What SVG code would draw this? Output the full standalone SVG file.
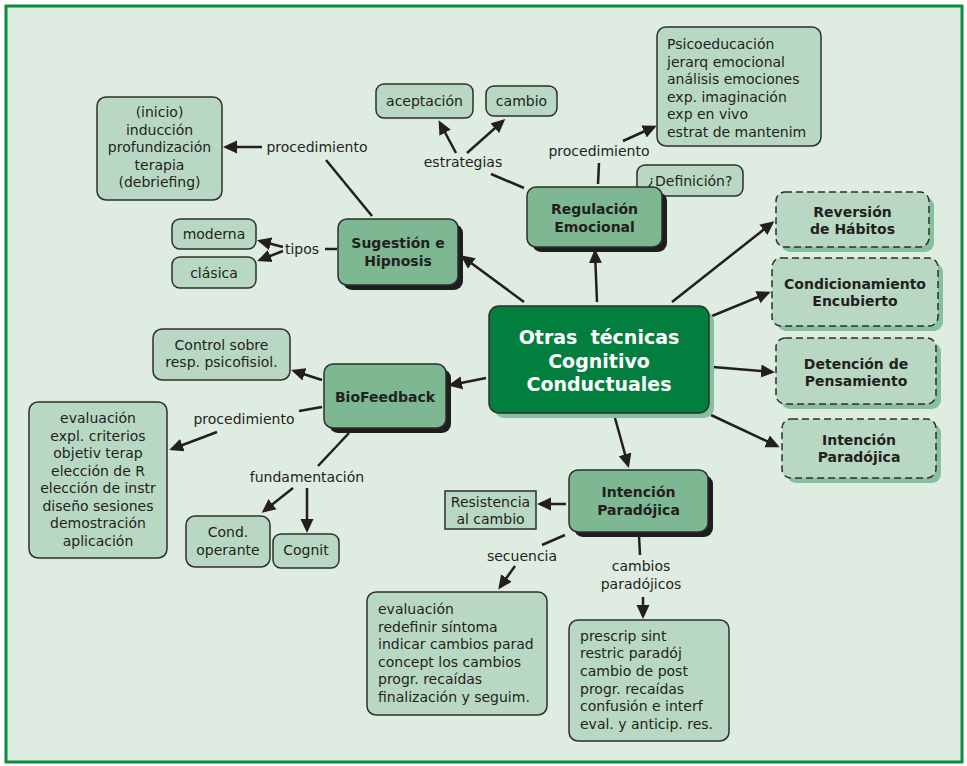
<svg xmlns="http://www.w3.org/2000/svg" width="967" height="766" viewBox="0 0 967 766">
<style>
text{font-family:"DejaVu Sans","Verdana",sans-serif;fill:#231F20}
.t{font-size:14px}
.tc{font-size:14px;text-anchor:middle}
.b{font-size:14px;font-weight:bold;text-anchor:middle}
.big{font-size:19px;font-weight:bold;text-anchor:middle;fill:#FFFFFF;white-space:pre}
.light{fill:#B9D8C4;stroke:#2E2E2E;stroke-width:1.5}
.mid{fill:#7DB893;stroke:#2E2E2E;stroke-width:1.5}
.dash{fill:#B9D8C4;stroke:#2E2E2E;stroke-width:1.5;stroke-dasharray:7 4}
.shd{fill:#1E1E1E}
.shl{fill:#86C09C}
.c line{stroke:#231F20;stroke-width:2.5}
.c line.a{marker-end:url(#ah)}
</style>
<defs>
<marker id="ah" markerUnits="userSpaceOnUse" markerWidth="14" markerHeight="14" viewBox="0 0 14 14" refX="11" refY="7" orient="auto">
<path d="M0,0.5 L14,7 L0,13.5 z" fill="#231F20"/>
</marker>
</defs>
<rect x="0" y="0" width="967" height="766" fill="#FFFFFF"/>
<rect x="6" y="6" width="956" height="756" fill="#DFECE2" stroke="#0B8A40" stroke-width="3"/>

<g id="connectors" class="c">
<line x1="372" y1="216" x2="326" y2="160"/>
<line class="a" x1="262" y1="147" x2="226" y2="147"/>
<line x1="337" y1="249" x2="325" y2="249"/>
<line class="a" x1="283" y1="247" x2="260" y2="241"/>
<line class="a" x1="283" y1="251" x2="260" y2="260"/>
<line class="a" x1="524" y1="302" x2="463" y2="257"/>
<line class="a" x1="597" y1="302" x2="595" y2="252"/>
<line x1="524" y1="188" x2="491" y2="174"/>
<line class="a" x1="456" y1="153" x2="440" y2="123"/>
<line class="a" x1="467" y1="153" x2="503" y2="121"/>
<line x1="598" y1="184" x2="599" y2="163"/>
<line class="a" x1="623" y1="141" x2="654" y2="127"/>
<line class="a" x1="486" y1="378" x2="451" y2="385"/>
<line class="a" x1="322" y1="380" x2="294" y2="371"/>
<line x1="322" y1="407" x2="299" y2="411"/>
<line class="a" x1="217" y1="432" x2="172" y2="449"/>
<line x1="349" y1="433" x2="318" y2="466"/>
<line class="a" x1="293" y1="488" x2="264" y2="511"/>
<line class="a" x1="307" y1="488" x2="307" y2="530"/>
<line class="a" x1="615" y1="418" x2="628" y2="465"/>
<line class="a" x1="566" y1="504" x2="540" y2="504"/>
<line x1="565" y1="535" x2="542" y2="545"/>
<line class="a" x1="515" y1="566" x2="500" y2="587"/>
<line x1="639" y1="536" x2="640" y2="555"/>
<line class="a" x1="643" y1="597" x2="643" y2="616"/>
<line class="a" x1="672" y1="302" x2="772" y2="223"/>
<line class="a" x1="712" y1="316" x2="768" y2="293"/>
<line class="a" x1="713" y1="367" x2="772" y2="372"/>
<line class="a" x1="711" y1="415" x2="777" y2="446"/>
</g>

<g id="labels">
<text class="tc" x="317" y="152">procedimiento</text>
<text class="tc" x="302" y="254">tipos</text>
<text class="tc" x="463" y="167">estrategias</text>
<text class="tc" x="599" y="156">procedimiento</text>
<text class="tc" x="244" y="424">procedimiento</text>
<text class="tc" x="307" y="482">fundamentación</text>
<text class="tc" x="522" y="561">secuencia</text>
<text class="tc" x="641" y="571">cambios</text>
<text class="tc" x="641" y="589">paradójicos</text>
</g>

<g id="n-center">
<rect class="shl" x="494" y="311" width="220" height="107" rx="10"/>
<rect x="489" y="306" width="220" height="107" rx="10" fill="#027E3E" stroke="#2E2E2E" stroke-width="1.5"/>
<text class="big" x="599" y="344">Otras  técnicas</text>
<text class="big" x="599" y="368">Cognitivo</text>
<text class="big" x="599" y="391">Conductuales</text>
</g>

<g id="n-sugestion">
<rect class="shd" x="343" y="224" width="120" height="66" rx="9"/>
<rect class="mid" x="338" y="219" width="120" height="66" rx="9"/>
<text class="b" x="398" y="248">Sugestión e</text>
<text class="b" x="398" y="266">Hipnosis</text>
</g>

<g id="n-procsug">
<rect class="light" x="97" y="97" width="125" height="103" rx="9"/>
<text class="tc" x="159.5" y="117">(inicio)</text>
<text class="tc" x="159.5" y="135">inducción</text>
<text class="tc" x="159.5" y="152">profundización</text>
<text class="tc" x="159.5" y="170">terapia</text>
<text class="tc" x="159.5" y="187">(debriefing)</text>
</g>

<g id="n-moderna">
<rect class="light" x="172" y="219" width="84" height="30" rx="8"/>
<text class="tc" x="214" y="239">moderna</text>
</g>
<g id="n-clasica">
<rect class="light" x="172" y="257" width="84" height="31" rx="8"/>
<text class="tc" x="214" y="278">clásica</text>
</g>

<g id="n-aceptacion">
<rect class="light" x="376" y="84" width="97" height="34" rx="8"/>
<text class="tc" x="424.5" y="106">aceptación</text>
</g>
<g id="n-cambio">
<rect class="light" x="486" y="86" width="71" height="30" rx="8"/>
<text class="tc" x="521.5" y="106">cambio</text>
</g>

<g id="n-psico">
<rect class="light" x="657" y="27" width="164" height="119" rx="9"/>
<text class="t" x="667" y="49">Psicoeducación</text>
<text class="t" x="667" y="67">jerarq emocional</text>
<text class="t" x="667" y="84">análisis emociones</text>
<text class="t" x="667" y="102">exp. imaginación</text>
<text class="t" x="667" y="119">exp en vivo</text>
<text class="t" x="667" y="137">estrat de mantenim</text>
</g>

<g id="n-definicion">
<rect class="light" x="637" y="165" width="106" height="31" rx="8"/>
<text class="tc" x="690" y="186">¿Definición?</text>
</g>

<g id="n-regulacion">
<rect class="shd" x="532" y="192" width="135" height="60" rx="9"/>
<rect class="mid" x="527" y="187" width="135" height="60" rx="9"/>
<text class="b" x="594.5" y="214">Regulación</text>
<text class="b" x="594.5" y="232">Emocional</text>
</g>

<g id="n-biofeedback">
<rect class="shd" x="329" y="369" width="122" height="64" rx="9"/>
<rect class="mid" x="324" y="364" width="122" height="64" rx="9"/>
<text class="b" x="385" y="402">BioFeedback</text>
</g>

<g id="n-control">
<rect class="light" x="153" y="329" width="137" height="51" rx="9"/>
<text class="tc" x="221.5" y="350">Control sobre</text>
<text class="tc" x="221.5" y="367">resp. psicofisiol.</text>
</g>

<g id="n-procbio">
<rect class="light" x="29" y="402" width="138" height="156" rx="9"/>
<text class="tc" x="98" y="423">evaluación</text>
<text class="tc" x="98" y="441">expl. criterios</text>
<text class="tc" x="98" y="458">objetiv terap</text>
<text class="tc" x="98" y="476">elección de R</text>
<text class="tc" x="98" y="493">elección de instr</text>
<text class="tc" x="98" y="511">diseño sesiones</text>
<text class="tc" x="98" y="528">demostración</text>
<text class="tc" x="98" y="546">aplicación</text>
</g>

<g id="n-condoperante">
<rect class="light" x="186" y="516" width="84" height="51" rx="9"/>
<text class="tc" x="228" y="537">Cond.</text>
<text class="tc" x="228" y="555">operante</text>
</g>
<g id="n-cognit">
<rect class="light" x="273" y="534" width="66" height="34" rx="8"/>
<text class="tc" x="306" y="555">Cognit</text>
</g>

<g id="n-intencion">
<rect class="shd" x="574" y="475" width="139" height="62" rx="9"/>
<rect class="mid" x="569" y="470" width="139" height="62" rx="9"/>
<text class="b" x="638.5" y="497">Intención</text>
<text class="b" x="638.5" y="515">Paradójica</text>
</g>

<g id="n-resistencia">
<rect class="light" x="445" y="491" width="91" height="38"/>
<text class="tc" x="490.5" y="507">Resistencia</text>
<text class="tc" x="490.5" y="524">al cambio</text>
</g>

<g id="n-secuencia">
<rect class="light" x="367" y="592" width="180" height="123" rx="9"/>
<text class="t" x="378" y="614">evaluación</text>
<text class="t" x="378" y="632">redefinir síntoma</text>
<text class="t" x="378" y="649">indicar cambios parad</text>
<text class="t" x="378" y="667">concept los cambios</text>
<text class="t" x="378" y="684">progr. recaídas</text>
<text class="t" x="378" y="702">finalización y seguim.</text>
</g>

<g id="n-cambiospar">
<rect class="light" x="569" y="620" width="160" height="121" rx="9"/>
<text class="t" x="580" y="641">prescrip sint</text>
<text class="t" x="580" y="658">restric paradój</text>
<text class="t" x="580" y="676">cambio de post</text>
<text class="t" x="580" y="694">progr. recaídas</text>
<text class="t" x="580" y="711">confusión e interf</text>
<text class="t" x="580" y="729">eval. y anticip. res.</text>
</g>

<g id="n-reversion">
<rect class="shl" x="781" y="197" width="153" height="55" rx="9"/>
<rect class="dash" x="776" y="192" width="153" height="55" rx="9"/>
<text class="b" x="852.5" y="217">Reversión</text>
<text class="b" x="852.5" y="234">de Hábitos</text>
</g>
<g id="n-condicionamiento">
<rect class="shl" x="777" y="263" width="166" height="68" rx="9"/>
<rect class="dash" x="772" y="258" width="166" height="68" rx="9"/>
<text class="b" x="855" y="289">Condicionamiento</text>
<text class="b" x="855" y="306">Encubierto</text>
</g>
<g id="n-detencion">
<rect class="shl" x="781" y="343" width="160" height="66" rx="9"/>
<rect class="dash" x="776" y="338" width="160" height="66" rx="9"/>
<text class="b" x="856" y="369">Detención de</text>
<text class="b" x="856" y="386">Pensamiento</text>
</g>
<g id="n-intencion2">
<rect class="shl" x="787" y="424" width="154" height="59" rx="9"/>
<rect class="dash" x="782" y="419" width="154" height="59" rx="9"/>
<text class="b" x="859" y="445">Intención</text>
<text class="b" x="859" y="462">Paradójica</text>
</g>
</svg>
